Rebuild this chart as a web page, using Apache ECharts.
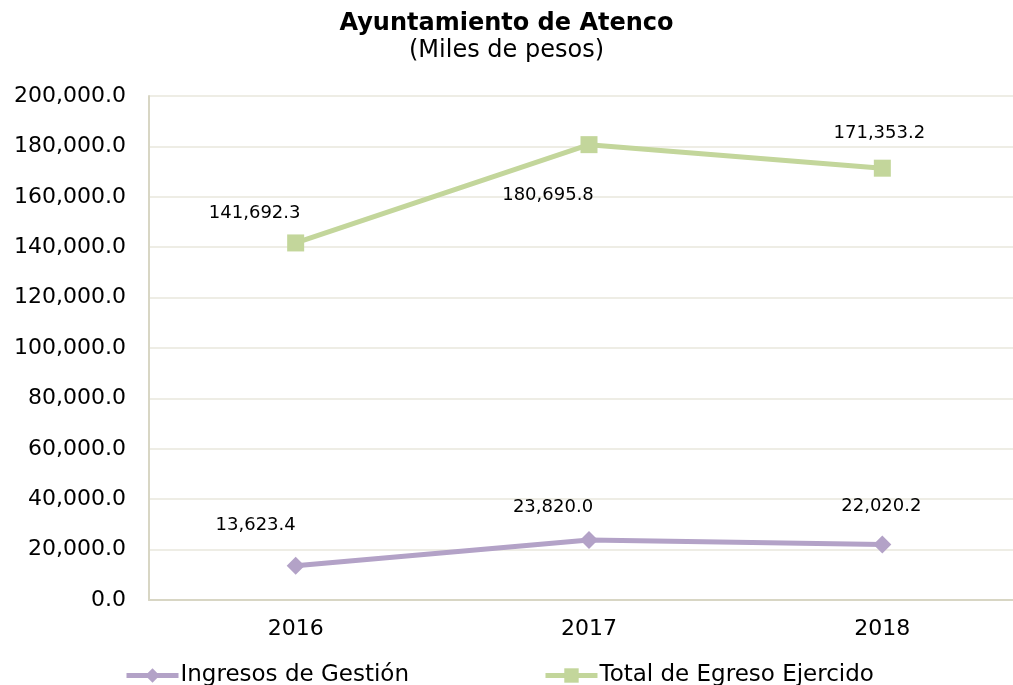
<!DOCTYPE html>
<html>
<head>
<meta charset="utf-8">
<script src="https://cdn.jsdelivr.net/npm/echarts@6/dist/echarts.min.js"></script>
<style>
  html, body { margin: 0; padding: 0; background: #fff; }
  #main { width: 1013px; height: 685px; }
</style>
</head>
<body>
<div id="main"></div>
<script>
var years = ['2016', '2017', '2018'];
var ingresos = [13623.4, 23820.0, 22020.2];
var egresos = [141692.3, 180695.8, 171353.2];
var yTicks = [0, 200000, 20000]; // min, max, interval

// label shifts (px), Excel puts them oddly
var ingresosLabelShift = [[-40, -40], [-36, -33], [-1, -38]];
var egresosLabelShift = [[-41, -30], [-41, 51], [-3, -35]];

var chart = echarts.init(document.getElementById('main'));

function fmt(v) {
    var parts = v.toFixed(1).split('.');
    parts[0] = parts[0].replace(/\B(?=(\d{3})+(?!\d))/g, ',');
    return parts.join('.');
}

function withLabels(values, shifts) {
    var out = [];
    for (var i = 0; i < values.length; i++) {
        out.push({
            value: values[i],
            label: { offset: shifts[i] }
        });
    }
    return out;
}

var font = 'DejaVu Sans, Liberation Sans, sans-serif';

chart.setOption({
    animation: false,
    title: {
        text: 'Ayuntamiento de Atenco',
        subtext: '(Miles de pesos)',
        left: 'center',
        top: 7,
        itemGap: 3,
        textStyle: { fontFamily: font, fontSize: 24, fontWeight: 'bold', color: '#000' },
        subtextStyle: { fontFamily: font, fontSize: 24, color: '#000' }
    },
    legend: {
        top: 659,
        left: 119,
        itemGap: 134,
        itemWidth: 52,
        itemHeight: 18,
        lineStyle: { width: 5 },
        textStyle: { fontFamily: font, fontSize: 23, color: '#000', padding: [0, 0, 0, -3] },
        data: ['Ingresos de Gestión', 'Total de Egreso Ejercido']
    },
    grid: {
        left: 149,
        top: 96,
        bottom: 85,
        width: 880,
        outerBoundsMode: 'none'
    },
    xAxis: {
        type: 'category',
        data: years,
        axisLine: { lineStyle: { color: '#d8d6c4', width: 2 } },
        axisTick: { show: false },
        axisLabel: { fontFamily: font, fontSize: 22, color: '#000', margin: 18 }
    },
    yAxis: {
        type: 'value',
        min: yTicks[0],
        max: yTicks[1],
        interval: yTicks[2],
        axisLine: { show: true, lineStyle: { color: '#d8d6c4', width: 2 } },
        axisTick: { show: false },
        splitLine: { lineStyle: { color: '#e9e7dc', width: 1.5 } },
        axisLabel: {
            fontFamily: font, fontSize: 22, color: '#000', margin: 23,
            formatter: function (v) { return fmt(v); }
        }
    },
    series: [
        {
            name: 'Ingresos de Gestión',
            type: 'line',
            data: withLabels(ingresos, ingresosLabelShift),
            symbol: 'diamond',
            symbolSize: 18,
            color: '#b3a2c7',
            lineStyle: { width: 5, color: '#b3a2c7' },
            itemStyle: { color: '#b3a2c7' },
            label: {
                show: true,
                position: 'inside',
                fontFamily: font,
                fontSize: 18,
                color: '#000',
                formatter: function (p) { return fmt(p.value); }
            }
        },
        {
            name: 'Total de Egreso Ejercido',
            type: 'line',
            data: withLabels(egresos, egresosLabelShift),
            symbol: 'rect',
            symbolSize: 17,
            color: '#c3d69b',
            lineStyle: { width: 5, color: '#c3d69b' },
            itemStyle: { color: '#c3d69b' },
            label: {
                show: true,
                position: 'inside',
                fontFamily: font,
                fontSize: 18,
                color: '#000',
                formatter: function (p) { return fmt(p.value); }
            }
        }
    ]
});
</script>
</body>
</html>
